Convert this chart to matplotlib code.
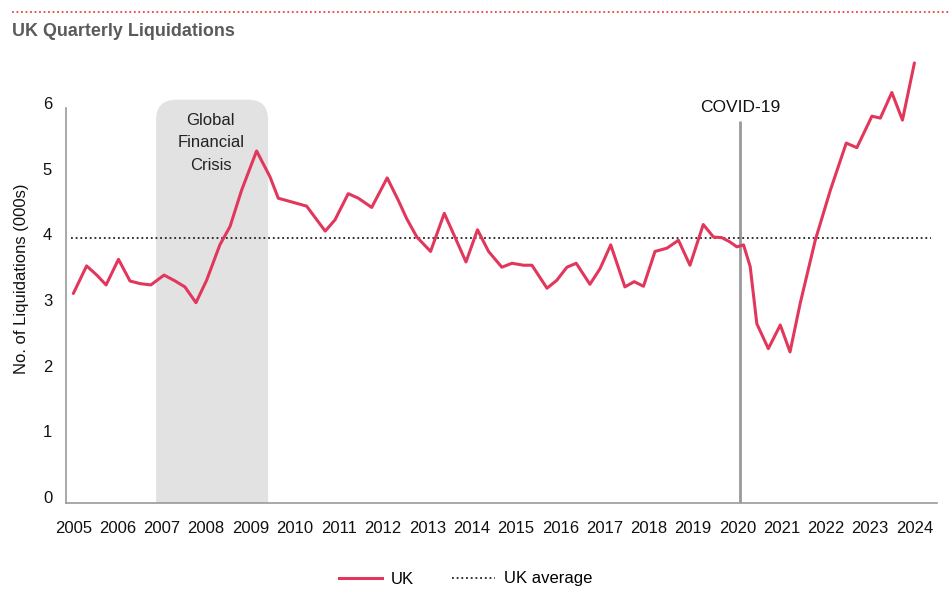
import matplotlib
matplotlib.use("Agg")
import matplotlib.pyplot as plt
from matplotlib.patches import FancyBboxPatch
from matplotlib.lines import Line2D

plt.rcParams['font.family'] = ['Liberation Sans', 'DejaVu Sans']

# values (year, thousands of liquidations)
years = [2005.00, 2005.30, 2005.53, 2005.74, 2006.02, 2006.28, 2006.51, 2006.75,
         2007.05, 2007.30, 2007.52, 2007.77, 2008.01, 2008.31, 2008.54, 2008.80,
         2009.14, 2009.44, 2009.63, 2009.90, 2010.27, 2010.69, 2010.91, 2011.21,
         2011.44, 2011.74, 2012.09, 2012.34, 2012.53, 2012.76, 2013.07, 2013.38,
         2013.62, 2013.87, 2014.13, 2014.38, 2014.68, 2014.91, 2015.17, 2015.36,
         2015.70, 2015.92, 2016.15, 2016.36, 2016.67, 2016.90, 2017.14, 2017.28,
         2017.46, 2017.67, 2017.88, 2018.14, 2018.41, 2018.67, 2018.93, 2019.23,
         2019.46, 2019.65, 2019.82, 2019.99, 2020.14, 2020.29, 2020.44, 2020.70,
         2020.97, 2021.19, 2021.42, 2021.76, 2022.10, 2022.46, 2022.70, 2023.04,
         2023.23, 2023.49, 2023.73, 2024.00]
uk = [3.10, 3.52, 3.38, 3.23, 3.62, 3.29, 3.25, 3.23,
      3.38, 3.29, 3.20, 2.96, 3.30, 3.84, 4.12, 4.67,
      5.27, 4.88, 4.55, 4.50, 4.43, 4.05, 4.22, 4.62,
      4.55, 4.41, 4.86, 4.52, 4.24, 3.96, 3.74, 4.32,
      3.96, 3.58, 4.07, 3.74, 3.50, 3.56, 3.53, 3.53,
      3.18, 3.30, 3.50, 3.56, 3.24, 3.48, 3.84, 3.56,
      3.20, 3.28, 3.21, 3.74, 3.79, 3.91, 3.53, 4.15,
      3.96, 3.95, 3.89, 3.81, 3.84, 3.51, 2.64, 2.26,
      2.62, 2.21, 2.95, 3.91, 4.67, 5.39, 5.32, 5.80,
      5.77, 6.16, 5.74, 6.61]

uk_avg = 3.95
avg_span = [2004.94, 2024.37]
year_ticks = list(range(2005, 2025))
y_ticks = [0, 1, 2, 3, 4, 5, 6]
crisis = [2006.87, 2009.40]
crisis_top = 6.05
covid_year = 2020.06
covid_top = 5.73

line_red = '#e2375c'
grey = '#999999'

fig = plt.figure(figsize=(9.5, 6), dpi=100)
ax = fig.add_axes([0.0695, 0.1617, 0.9168, 0.7487])
ax.set_xlim(2004.835, 2024.51)
ax.set_ylim(-0.09, 6.75)

# shaded crisis box, rounded at the top (aspect fixed so the corners are round)
px_x = 44.26
px_y = 65.67
r = 20 / px_x
box = FancyBboxPatch((crisis[0], -1.0), crisis[1] - crisis[0], crisis_top + 1.0,
                     boxstyle=f"round,pad=0,rounding_size={r}",
                     mutation_aspect=px_x / px_y,
                     facecolor='#e2e2e2', edgecolor='none', zorder=0)
ax.add_patch(box)
ax.text(sum(crisis) / 2 - 0.03, crisis_top - 0.2, "Global\nFinancial\nCrisis",
        ha='center', va='top', fontsize=12, color='#222222', linespacing=1.62)

# covid marker
ax.vlines(covid_year, -0.09, covid_top, color=grey, lw=2, zorder=1)
ax.text(covid_year, covid_top + 0.08, "COVID-19", ha='center', va='bottom',
        fontsize=12.5, color='#111111')

ax.hlines(uk_avg, avg_span[0], avg_span[1], colors='#222222', lw=1.3,
          linestyles=(0, (1, 1.6)), label='UK average', zorder=2)
ax.plot(years, uk, color=line_red, lw=2.2, label='UK', zorder=3,
        solid_joinstyle='round', solid_capstyle='round', clip_on=False)

for s in ['top', 'right']:
    ax.spines[s].set_visible(False)
ax.spines['left'].set_color(grey)
ax.spines['bottom'].set_color(grey)
ax.spines['left'].set_bounds(-0.09, 5.92)
ax.spines['left'].set_linewidth(1.2)
ax.spines['bottom'].set_linewidth(1.2)

ax.set_xticks(year_ticks)
ax.set_xticklabels([str(y) for y in year_ticks])
ax.set_yticks(y_ticks)
ax.tick_params(axis='both', length=0, labelsize=12, colors='#111111')
ax.tick_params(axis='x', pad=13)
ax.tick_params(axis='y', pad=10)
ax.set_ylabel("No. of Liquidations (000s)", fontsize=12, color='#111111', labelpad=10)

# header
fig.add_artist(Line2D([12 / 950, 1.0], [1 - 12 / 600, 1 - 12 / 600],
                      color='#e8473f', lw=1.3, linestyle=(0, (1, 1.5))))
fig.text(12 / 950, 1 - 31 / 600, "UK Quarterly Liquidations", fontsize=12.9,
         fontweight='bold', color='#5a5a5a', va='center', ha='left')

handles = [Line2D([], [], color=line_red, lw=2.2),
           Line2D([], [], color='#222222', lw=1.3, linestyle=(0, (1, 1.6)))]
fig.legend(handles, ['UK', 'UK average'], loc='center', ncol=2,
           bbox_to_anchor=(0.49, 0.035), frameon=False, fontsize=12,
           handlelength=2.6, columnspacing=2.3, handletextpad=0.5)

fig.savefig("out.png", dpi=100)
